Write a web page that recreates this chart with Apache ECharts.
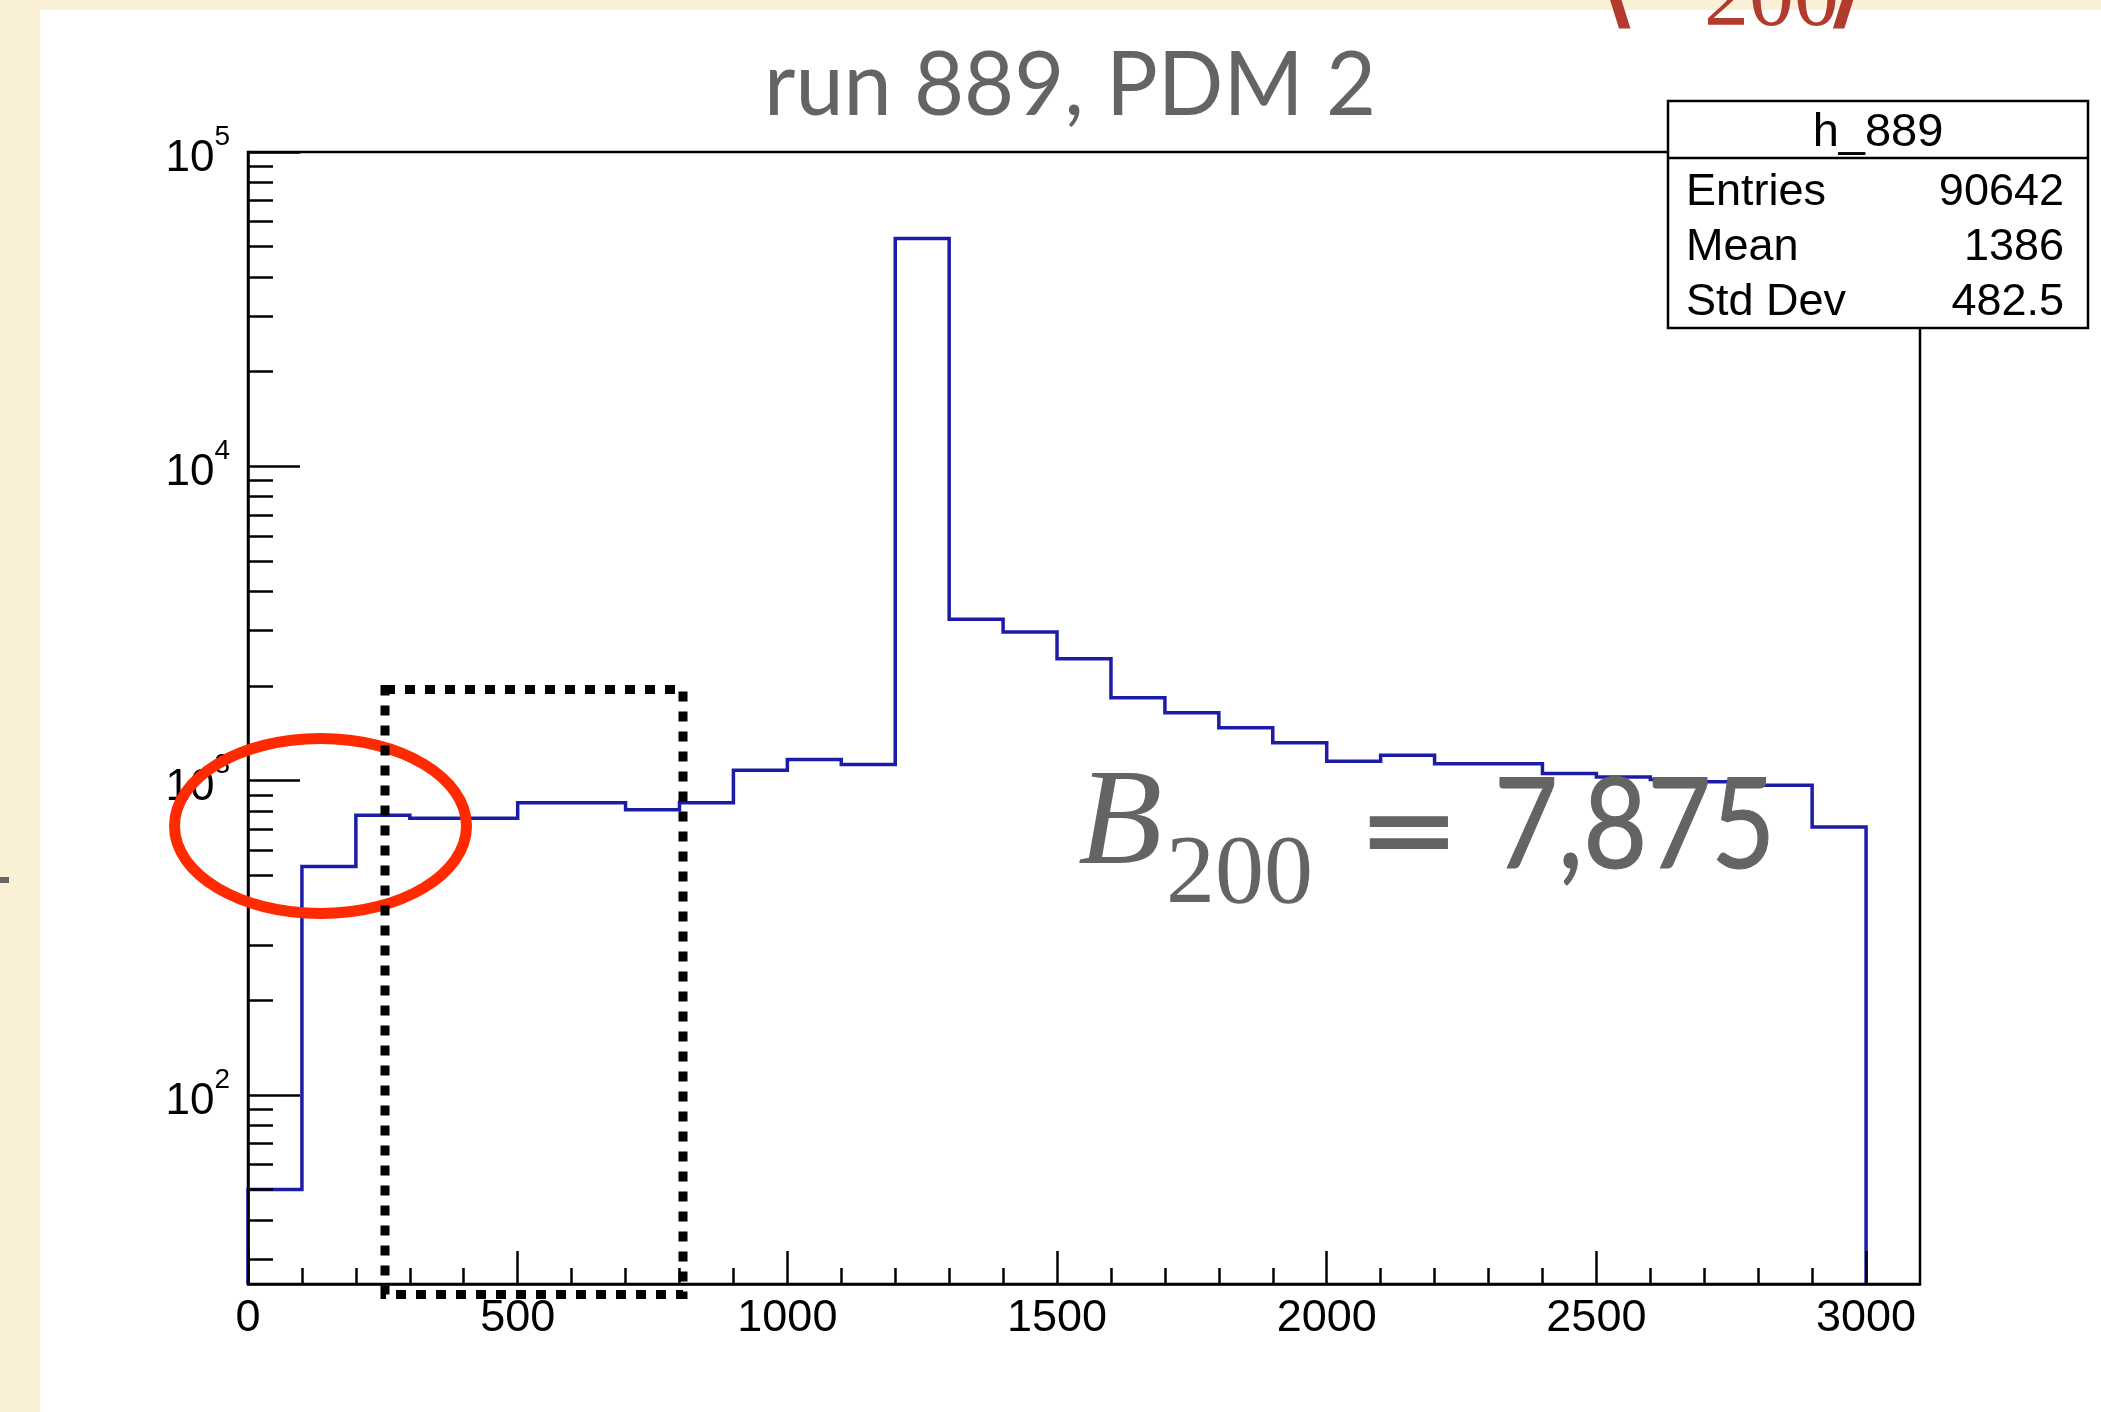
<!DOCTYPE html>
<html>
<head>
<meta charset="utf-8">
<script src="https://cdn.jsdelivr.net/npm/echarts@6/dist/echarts.min.js"></script>
<style>
  html, body { margin: 0; padding: 0; background: #f9f0d5; }
  #chart { width: 2101px; height: 1412px; }
</style>
</head>
<body>
<div id="chart"></div>
<script>
// Histogram h_889: lower edge of each 100-wide bin and its count
const binStarts = [0, 100, 200, 300, 400, 500, 600, 700, 800, 900,
                   1000, 1100, 1200, 1300, 1400, 1500, 1600, 1700, 1800, 1900,
                   2000, 2100, 2200, 2300, 2400, 2500, 2600, 2700, 2800, 2900];
const binWidth = 100;
const counts = [50, 533, 775, 759, 759, 849, 849, 808, 849, 1078,
                1166, 1124, 53100, 3257, 2967, 2441, 1834, 1643, 1472, 1318,
                1152, 1204, 1130, 1130, 1052, 1027, 1007, 991, 966, 712];

// Axis ticks and labels
const xMajorTicks = [0, 500, 1000, 1500, 2000, 2500, 3000];
const yDecadeExponents = [2, 3, 4, 5];
const xRange = [0, 3100];
const yRange = [25, 100000];

// Statistics box
const statTitle = 'h_889';
const statNames = ['Entries', 'Mean', 'Std Dev'];
const statValues = ['90642', '1386', '482.5'];

// Step outline of the histogram
const outline = [[binStarts[0], yRange[0]]];
binStarts.forEach((x0, i) => {
  outline.push([x0, counts[i]]);
  outline.push([x0 + binWidth, counts[i]]);
});
outline.push([binStarts[binStarts.length - 1] + binWidth, yRange[0]]);

const xMinorTicks = [];
for (let v = xRange[0]; v <= 3000; v += binWidth) xMinorTicks.push(v);
const yMajorTicks = yDecadeExponents.map(e => Math.pow(10, e));
const yMinorTicks = [];
for (let e = 1; e <= 4; e++) {
  for (let k = 2; k <= 9; k++) {
    const v = k * Math.pow(10, e);
    if (v >= yRange[0] && v <= yRange[1]) yMinorTicks.push(v);
  }
}

const SANS = 'Liberation Sans, Arial, sans-serif';
const GREY = '#646464';
const AXIS_W = 2.5;

const chart = echarts.init(document.getElementById('chart'), null, { renderer: 'canvas' });

const statRowsGraphic = [];
statNames.forEach((name, i) => {
  const cy = 196 + i * 55;
  statRowsGraphic.push({
    type: 'text', left: 1686, top: cy - 26, z: 20,
    style: { text: name, fontFamily: SANS, fontSize: 45, fill: '#000' }
  });
  statRowsGraphic.push({
    type: 'text', right: 2101 - 2064, top: cy - 26, z: 20,
    style: { text: statValues[i], fontFamily: SANS, fontSize: 45, fill: '#000', align: 'right' }
  });
});

chart.setOption({
  animation: false,
  backgroundColor: '#f9f0d5',
  grid: {
    left: 248, top: 152, width: 1672, height: 1132,
    show: true, borderColor: '#000', borderWidth: AXIS_W, backgroundColor: 'transparent'
  },
  xAxis: [
    {
      type: 'value', min: xRange[0], max: xRange[1], position: 'bottom', z: 5,
      axisLine: { show: true, lineStyle: { color: '#000', width: AXIS_W } },
      splitLine: { show: false },
      axisTick: { show: true, inside: true, length: 33, customValues: xMajorTicks,
                  lineStyle: { color: '#000', width: AXIS_W } },
      axisLabel: { show: true, customValues: xMajorTicks, margin: 12,
                   formatter: v => String(v),
                   fontFamily: SANS, fontSize: 45, color: '#000' }
    },
    {
      type: 'value', min: xRange[0], max: xRange[1], position: 'bottom', offset: 0, z: 5,
      axisLine: { show: false },
      splitLine: { show: false },
      axisTick: { show: true, inside: true, length: 16, customValues: xMinorTicks,
                  lineStyle: { color: '#000', width: AXIS_W } },
      axisLabel: { show: false }
    }
  ],
  yAxis: [
    {
      type: 'log', logBase: 10, min: yRange[0], max: yRange[1], position: 'left', z: 5,
      axisLine: { show: true, lineStyle: { color: '#000', width: AXIS_W } },
      splitLine: { show: false },
      axisTick: { show: true, inside: true, length: 52, customValues: yMajorTicks,
                  lineStyle: { color: '#000', width: AXIS_W } },
      axisLabel: {
        show: true, customValues: yMajorTicks, margin: 18,
        formatter: v => '{a|10}{s|' + Math.round(Math.log10(v)) + '}',
        rich: {
          a: { fontFamily: SANS, fontSize: 44, color: '#000', padding: [14, 0, 0, 0] },
          s: { fontFamily: SANS, fontSize: 28, color: '#000', verticalAlign: 'top' }
        }
      }
    },
    {
      type: 'log', logBase: 10, min: yRange[0], max: yRange[1], position: 'left', offset: 0, z: 5,
      axisLine: { show: false },
      splitLine: { show: false },
      axisTick: { show: true, inside: true, length: 25, customValues: yMinorTicks,
                  lineStyle: { color: '#000', width: AXIS_W } },
      axisLabel: { show: false }
    }
  ],
  series: [{
    type: 'line', xAxisIndex: 0, yAxisIndex: 0, z: 2,
    data: outline, showSymbol: false, symbol: 'none', clip: true,
    lineStyle: { color: '#1c1ca8', width: 3.5, join: 'miter', cap: 'butt' }
  }],
  graphic: [
    // white slide panel
    { type: 'rect', shape: { x: 40, y: 10, width: 2061, height: 1402 },
      style: { fill: '#ffffff' }, z: -10, silent: true },
    // small clipped dash at the left margin
    { type: 'rect', shape: { x: 0, y: 877, width: 9, height: 6 }, style: { fill: '#666' }, z: 1 },
    // clipped red label at the top
    { type: 'text', x: 1598, y: -48, z: 30,
      style: { text: '\u27E8', fontFamily: 'DejaVu Sans', fontWeight: 'bold', fontSize: 86, fill: '#b23b2e' } },
    { type: 'text', x: 1704, y: -44, z: 30,
      style: { text: '200', fontFamily: 'Liberation Serif, serif', fontSize: 90, fill: '#b23b2e' } },
    { type: 'text', x: 1826, y: -48, z: 30,
      style: { text: '\u27E9', fontFamily: 'DejaVu Sans', fontWeight: 'bold', fontSize: 86, fill: '#b23b2e' } },
    // title
    { type: 'text', x: 1070, y: 86, scaleX: 0.96, z: 20,
      style: { text: 'run 889, PDM 2', fontFamily: 'Lato, sans-serif', fontSize: 90, fill: GREY,
               align: 'center', verticalAlign: 'middle' } },
    // statistics box
    { type: 'rect', shape: { x: 1668, y: 101, width: 420, height: 227 },
      style: { fill: '#fff', stroke: '#000', lineWidth: AXIS_W }, z: 15 },
    { type: 'line', shape: { x1: 1668, y1: 158, x2: 2088, y2: 158 },
      style: { stroke: '#000', lineWidth: AXIS_W }, z: 16 },
    { type: 'text', x: 1878, y: 133, z: 20,
      style: { text: statTitle, fontFamily: SANS, fontSize: 47, fill: '#000',
               align: 'center', verticalAlign: 'middle' } },
    ...statRowsGraphic,
    // highlighted region
    { type: 'ellipse', shape: { cx: 320.5, cy: 826, rx: 146, ry: 87.5 },
      style: { fill: 'none', stroke: '#ff2a00', lineWidth: 11 }, z: 24 },
    { type: 'rect', shape: { x: 385, y: 689.5, width: 298, height: 605 },
      style: { fill: 'none', stroke: '#000', lineWidth: 9, lineDash: [10, 10] }, z: 25 },
    // B200 label
    { type: 'text', x: 1078, y: 827, z: 22,
      style: { text: 'B', fontFamily: 'Liberation Serif, serif', fontStyle: 'italic', fontSize: 138,
               fill: GREY, verticalAlign: 'middle' } },
    { type: 'text', x: 1166, y: 876, z: 22,
      style: { text: '200', fontFamily: 'Liberation Serif, serif', fontSize: 98,
               fill: GREY, verticalAlign: 'middle' } },
    { type: 'text', x: 1358, y: 835, scaleX: 1.35, z: 22,
      style: { text: '=', fontFamily: 'Lato, sans-serif', fontSize: 130,
               fill: GREY, stroke: GREY, lineWidth: 2, verticalAlign: 'middle' } },
    { type: 'text', x: 1494, y: 827, scaleX: 0.87, z: 22,
      style: { text: '7,875', fontFamily: 'Lato, sans-serif', fontSize: 127,
               fill: GREY, stroke: GREY, lineWidth: 1.2, verticalAlign: 'middle' } }
  ]
});
</script>
</body>
</html>
